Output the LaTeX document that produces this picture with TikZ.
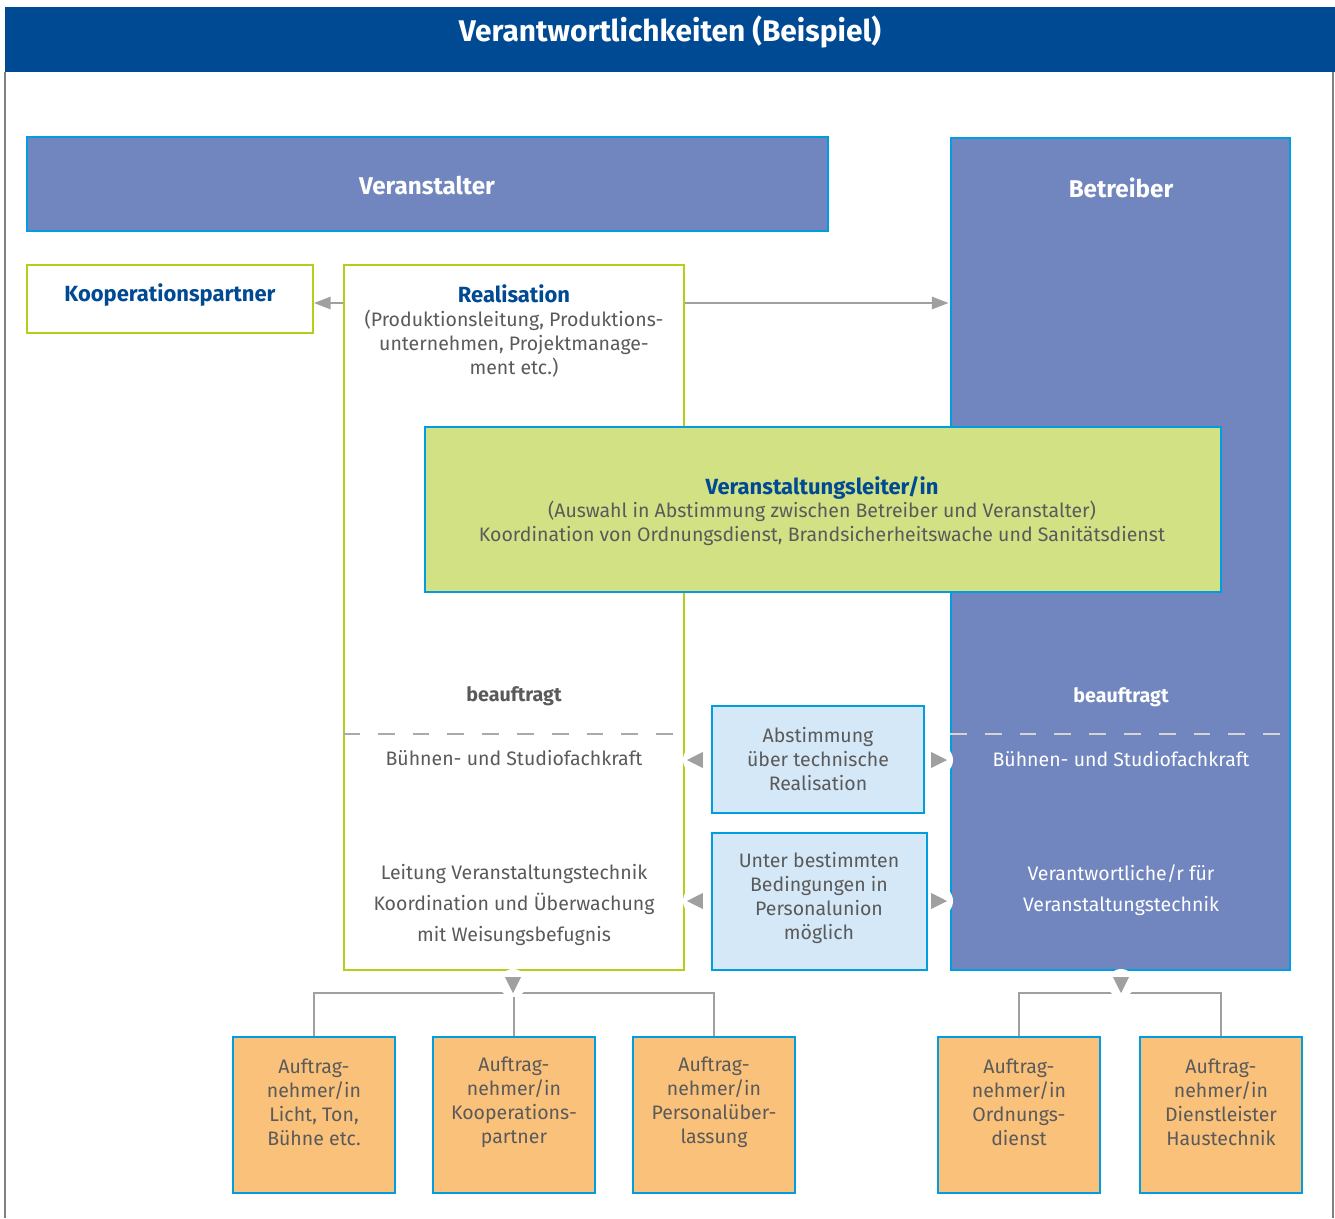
\documentclass[tikz,border=0pt]{standalone}
\usepackage{fontspec}
\setmainfont{Fira Sans}
\usetikzlibrary{arrows.meta, fit}
\definecolor{kopfBlau}{RGB}{0,74,148}
\definecolor{orgBlau}{RGB}{113,134,190}
\definecolor{randCyan}{RGB}{0,158,224}
\definecolor{randGruen}{RGB}{181,206,26}
\definecolor{leiterGruen}{RGB}{211,225,133}
\definecolor{hellBlau}{RGB}{212,232,248}
\definecolor{auftragOrange}{RGB}{249,193,122}
\definecolor{textGrau}{RGB}{90,90,90}
\definecolor{linieGrau}{RGB}{160,160,160}

\begin{document}
\begin{tikzpicture}[
    x=0.02cm, y=-0.02cm,
    every node/.style={font=\fontsize{11.1}{13.6}\selectfont, text=textGrau, align=center},
    kasten/.style={draw=randCyan, line width=1.1pt, inner sep=0pt},
    orgKasten/.style={kasten, fill=orgBlau},
    orgText/.style={text=white, font=\fontsize{13.8}{16}\selectfont\bfseries},
    gruenKasten/.style={draw=randGruen, line width=1.1pt, fill=white, inner sep=0pt},
    infoKasten/.style={kasten, fill=hellBlau},
    auftragKasten/.style={kasten, fill=auftragOrange},
    titelBlau/.style={text=kopfBlau, font=\fontsize{12.5}{13.6}\selectfont\bfseries},
    verbinder/.style={draw=linieGrau, line width=1.1pt},
    pfeil/.style={verbinder, -{Triangle[length=9.5pt, width=7pt]}},
    marke/.style={draw=linieGrau, fill=linieGrau, line width=0.4pt, -{Triangle[length=9pt, width=9pt]}},
    trennlinie/.style={line width=1.1pt, dash pattern=on 9.6pt off 10.2pt}
]
    \useasboundingbox (0,0) rectangle (1335,1218);

    % --- KOPF ---
    \fill[kopfBlau] (5,7) rectangle (1335,72);
    \node[text=white, font=\fontsize{17}{20}\selectfont\bfseries] (titel) at (670,32) {Verantwortlichkeiten (Beispiel)};
    \draw[gray, line width=0.6pt] (5,72) -- (5,1218);
    \draw[gray, line width=0.6pt] (1333,72) -- (1333,1218);

    % --- VERANSTALTER / BETREIBER ---
    \node[orgKasten, fit={(27,137) (828,231)}] (veranstalter) {};
    \node[orgText] (veranstalterText) at (427,185) {Veranstalter};
    \node[orgKasten, fit={(951,138) (1290,970)}] (betreiber) {};
    \node[orgText] (betreiberText) at (1121,188) {Betreiber};

    % --- REALISATION ---
    \node[gruenKasten, fit={(27,265) (313,333)}] (koop) {};
    \node[titelBlau] (koopText) at (170,295) {Kooperationspartner};
    \node[gruenKasten, fit={(344,265) (684,970)}] (real) {};
    \node (realText) at (514,331) {{\color{kopfBlau}\fontsize{12.5}{13.6}\selectfont\bfseries Realisation}\\(Produktionsleitung, Produktions-\\unternehmen, Projektmanage-\\ment etc.)};
    \coordinate (pfeilhoehe) at (0,303);
    \draw[pfeil] (real.west |- pfeilhoehe) -- (koop.east |- pfeilhoehe);
    \draw[pfeil] (real.east |- pfeilhoehe) -- ([xshift=-1.5*0.02cm]betreiber.west |- pfeilhoehe);

    % --- BEAUFTRAGT ---
    \coordinate (trenn) at (0,734);
    \draw[trennlinie, linieGrau!90] (real.west |- trenn) -- (real.east |- trenn);
    \draw[trennlinie, white!55!linieGrau] (betreiber.west |- trenn) -- (betreiber.east |- trenn);
    \node[font=\fontsize{11.2}{13.6}\selectfont\bfseries] (beauftragtL) at (514,696) {beauftragt};
    \node[text=white, font=\fontsize{11.2}{13.6}\selectfont\bfseries] (beauftragtR) at (1121,697) {beauftragt};
    \node (buehneL) at (514,758) {Bühnen- und Studiofachkraft};
    \node[text=white] (buehneR) at (1121,759) {Bühnen- und Studiofachkraft};
    \node[font=\fontsize{11.1}{17.9}\selectfont] (leitungL) at (514,905) {Leitung Veranstaltungstechnik\\Koordination und Überwachung\\mit Weisungsbefugnis};
    \node[text=white, font=\fontsize{11.1}{17.6}\selectfont] (leitungR) at (1121,890) {Verantwortliche/r für\\Veranstaltungstechnik};

    % --- ABSTIMMUNG ---
    \foreach \y in {760, 901} {
        \fill[white] (698,\y) circle[radius=0.3cm];
        \fill[white] (938,\y) circle[radius=0.3cm];
    }
    \node[infoKasten, fit={(712,706) (924,813)}] (abstimmung) {};
    \node (abstimmungText) at (818,759) {Abstimmung\\über technische\\Realisation};
    \node[infoKasten, fit={(712,833) (927,970)}] (personalunion) {};
    \node (personalunionText) at (819,898) {Unter bestimmten\\Bedingungen in\\Personalunion\\möglich};
    \foreach \y in {760, 901} {
        \draw[marke] (688,\y) -- (687,\y);
        \draw[marke] (946,\y) -- (947,\y);
    }

    % --- VERANSTALTUNGSLEITER/IN ---
    \node[kasten, fill=leiterGruen, fit={(425,427) (1221,592)}] (vleiter) {};
    \node (vleiterText) at (822,511)
        {{\color{kopfBlau}\fontsize{12.5}{13.6}\selectfont\bfseries Veranstaltungsleiter/in}\\(Auswahl in Abstimmung zwischen Betreiber und Veranstalter)\\Koordination von Ordnungsdienst, Brandsicherheitswache und Sanitätsdienst};

    % --- AUFTRAGNEHMER/INNEN ---
    \node[auftragKasten, fit={(233,1037) (395,1193)}] (licht) {};
    \node[auftragKasten, fit={(433,1037) (595,1193)}] (kooperation) {};
    \node[auftragKasten, fit={(633,1037) (795,1193)}] (personal) {};
    \node[auftragKasten, fit={(938,1037) (1100,1193)}] (ordnung) {};
    \node[auftragKasten, fit={(1140,1037) (1302,1193)}] (haustechnik) {};
    \node (lichtText) at (licht |- 0,1102) {Auftrag-\\nehmer/in\\Licht, Ton,\\Bühne etc.};
    \node (kooperationText) at (kooperation |- 0,1102) {Auftrag-\\nehmer/in\\Kooperations-\\partner};
    \node (personalText) at (personal |- 0,1102) {Auftrag-\\nehmer/in\\Personalüber-\\lassung};
    \node (ordnungText) at (ordnung |- 0,1102) {Auftrag-\\nehmer/in\\Ordnungs-\\dienst};
    \node (haustechnikText) at (haustechnik |- 0,1102) {Auftrag-\\nehmer/in\\Dienstleister\\Haustechnik};

    \coordinate (knotenL) at (real.south |- 0,993);
    \coordinate (knotenR) at (betreiber.south |- 0,993);
    \draw[verbinder] (licht.north) |- (knotenL) -| (personal.north);
    \draw[verbinder] (kooperation.north) -- (knotenL);
    \draw[verbinder] (ordnung.north) |- (knotenR) -| (haustechnik.north);
    \fill[white] (513,983) circle[radius=0.28cm];
    \fill[white] (1121,983) circle[radius=0.28cm];
    \draw[marke] (513,992) -- (513,993);
    \draw[marke] (1121,992) -- (1121,993);
\end{tikzpicture}
\end{document}
